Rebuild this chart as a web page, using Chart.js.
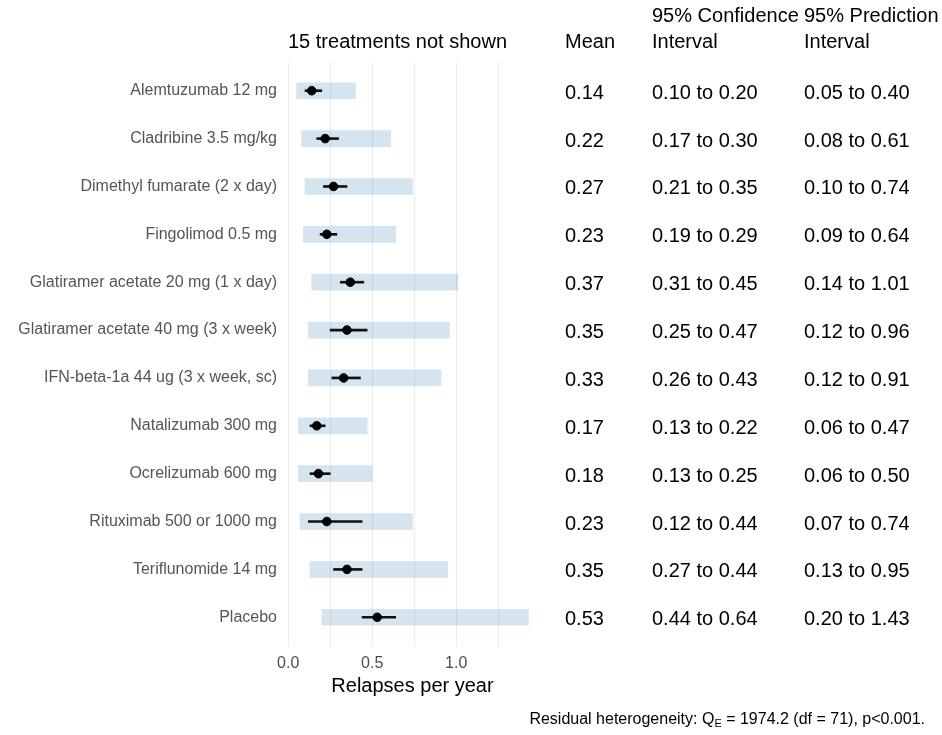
<!DOCTYPE html>
<html>
<head>
<meta charset="utf-8">
<script src="https://cdn.jsdelivr.net/npm/chart.js@4"></script>
<style>
  body { margin: 0; background: #fff; }
  canvas { display: block; }
</style>
</head>
<body>
<canvas id="forest" width="942" height="735"></canvas>
<script>
// ---------- data ----------
const treatments = [
  "Alemtuzumab 12 mg",
  "Cladribine 3.5 mg/kg",
  "Dimethyl fumarate (2 x day)",
  "Fingolimod 0.5 mg",
  "Glatiramer acetate 20 mg (1 x day)",
  "Glatiramer acetate 40 mg (3 x week)",
  "IFN-beta-1a 44 ug (3 x week, sc)",
  "Natalizumab 300 mg",
  "Ocrelizumab 600 mg",
  "Rituximab 500 or 1000 mg",
  "Teriflunomide 14 mg",
  "Placebo"
];
const means = [0.14, 0.22, 0.27, 0.23, 0.37, 0.35, 0.33, 0.17, 0.18, 0.23, 0.35, 0.53];
const ciLow = [0.10, 0.17, 0.21, 0.19, 0.31, 0.25, 0.26, 0.13, 0.13, 0.12, 0.27, 0.44];
const ciHigh = [0.20, 0.30, 0.35, 0.29, 0.45, 0.47, 0.43, 0.22, 0.25, 0.44, 0.44, 0.64];
const piLow = [0.05, 0.08, 0.10, 0.09, 0.14, 0.12, 0.12, 0.06, 0.06, 0.07, 0.13, 0.20];
const piHigh = [0.40, 0.61, 0.74, 0.64, 1.01, 0.96, 0.91, 0.47, 0.50, 0.74, 0.95, 1.43];
const xTickValues = [0, 0.25, 0.5, 0.75, 1, 1.25];
const xTickLabels = {0: "0.0", 0.5: "0.5", 1: "1.0"};

const FONT = '"Liberation Sans", Arial, sans-serif';
const fmt = v => v.toFixed(2);

// ---------- table + titles drawn next to the plot ----------
const tablePlugin = {
  id: "forestTable",
  afterDraw(chart) {
    const ctx = chart.ctx;
    const y = chart.scales.y;
    ctx.save();
    ctx.fillStyle = "#000";
    ctx.textAlign = "left";
    ctx.textBaseline = "alphabetic";
    ctx.font = "20px " + FONT;

    // column headers
    ctx.fillText("15 treatments not shown", 288, 48);
    ctx.fillText("Mean", 565, 48);
    ctx.fillText("95% Confidence", 652, 22);
    ctx.fillText("Interval", 652, 48);
    ctx.fillText("95% Prediction", 804, 22);
    ctx.fillText("Interval", 804, 48);

    // one row of numbers per treatment
    treatments.forEach((name, i) => {
      const py = y.getPixelForValue(i) + 8;
      ctx.fillText(fmt(means[i]), 565, py);
      ctx.fillText(fmt(ciLow[i]) + " to " + fmt(ciHigh[i]), 652, py);
      ctx.fillText(fmt(piLow[i]) + " to " + fmt(piHigh[i]), 804, py);
    });

    // x axis title
    const area = chart.chartArea;
    ctx.textAlign = "center";
    ctx.fillText("Relapses per year", (area.left + area.right) / 2, 692);

    // footnote with subscript E
    ctx.textAlign = "left";
    const big = "16px " + FONT, small = "11px " + FONT;
    const parts = [
      ["Residual heterogeneity: Q", big, 0],
      ["E", small, 3],
      [" = 1974.2 (df = 71), p<0.001.", big, 0]
    ];
    let total = 0;
    parts.forEach(p => { ctx.font = p[1]; total += ctx.measureText(p[0]).width; });
    let x = 925 - total;
    parts.forEach(p => {
      ctx.font = p[1];
      ctx.fillText(p[0], x, 724 + p[2]);
      x += ctx.measureText(p[0]).width;
    });
    ctx.restore();
  }
};

// ---------- chart ----------
new Chart(document.getElementById("forest"), {
  type: "bar",
  data: {
    datasets: [
      {
        label: "95% Prediction Interval",
        data: treatments.map((_, i) => ({ x: [piLow[i], piHigh[i]], y: i })),
        backgroundColor: "rgba(70, 130, 180, 0.22)",
        barThickness: 16,
        grouped: false,
        order: 3
      },
      {
        label: "95% Confidence Interval",
        data: treatments.map((_, i) => ({ x: [ciLow[i], ciHigh[i]], y: i })),
        backgroundColor: "#111",
        barThickness: 2,
        grouped: false,
        order: 2
      },
      {
        type: "scatter",
        label: "Mean",
        data: treatments.map((_, i) => ({ x: means[i], y: i })),
        backgroundColor: "#000",
        borderColor: "#000",
        pointRadius: 4.3,
        order: 1
      }
    ]
  },
  options: {
    indexAxis: "y",
    responsive: false,
    animation: false,
    layout: { padding: { top: 62, right: 402, left: 0, bottom: 0 } },
    plugins: {
      legend: { display: false },
      tooltip: { enabled: false }
    },
    scales: {
      x: {
        type: "linear",
        position: "bottom",
        offset: false,
        min: -0.019,
        max: 1.499,
        afterBuildTicks: s => { s.ticks = xTickValues.map(v => ({ value: v })); },
        afterFit: s => { s.height = 89; },
        grid: { color: "#ebebeb", lineWidth: 1, drawTicks: false, offset: false },
        border: { display: false },
        ticks: {
          padding: 8,
          color: "#4d4d4d",
          font: { family: FONT, size: 16 },
          callback: v => xTickLabels[v] || ""
        }
      },
      y: {
        type: "linear",
        position: "left",
        reverse: true,
        offset: false,
        min: -0.6,
        max: 11.6,
        afterBuildTicks: s => { s.ticks = treatments.map((_, i) => ({ value: i })); },
        afterFit: s => { s.width = 285; },
        grid: { display: false, drawTicks: false, offset: false },
        border: { display: false },
        ticks: {
          padding: 8,
          color: "#555",
          font: { family: FONT, size: 16 },
          callback: v => treatments[v]
        }
      }
    }
  },
  plugins: [tablePlugin]
});
</script>
</body>
</html>
